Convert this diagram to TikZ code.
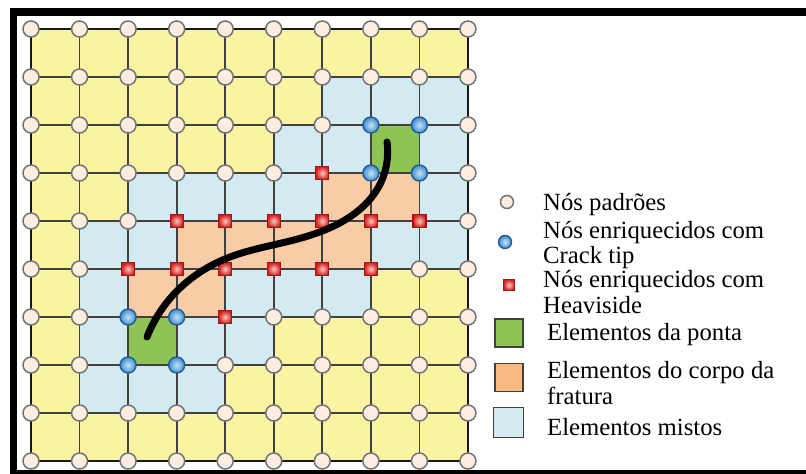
\documentclass[tikz,border=0pt]{standalone}
\usepackage{fontspec}
\setmainfont{Liberation Serif}
\newfontfamily\legendfont{Liberation Serif}
\usetikzlibrary{hobby, positioning}

\definecolor{cellyellow}{RGB}{250,243,162}
\definecolor{cellmixed}{RGB}{210,234,240}
\definecolor{cellbody}{RGB}{248,204,166}
\definecolor{legbody}{RGB}{247,186,128}
\definecolor{celltip}{RGB}{141,196,84}
\definecolor{nodepeach}{RGB}{252,237,225}
\definecolor{tipblue}{RGB}{62,142,205}
\definecolor{tiplight}{RGB}{200,228,248}
\definecolor{tiprim}{RGB}{35,90,150}
\definecolor{heavred}{RGB}{212,32,32}
\definecolor{heavlight}{RGB}{250,200,190}
\definecolor{heavrim}{RGB}{165,20,20}

\tikzset{
    stdnode/.style={circle, draw=black!55, line width=1.5bp, fill=nodepeach,
        minimum size=16bp, inner sep=0pt},
    tipnode/.style={circle, draw=tiprim, line width=1.4bp, inner color=tiplight,
        outer color=tipblue, minimum size=16bp, inner sep=0pt},
    heavnode/.style={rectangle, draw=heavrim, line width=1.3bp, inner color=heavlight,
        outer color=heavred, minimum size=13bp, inner sep=0pt},
    gridline/.style={draw=black!75, line width=1.8bp},
    gridborder/.style={draw=black!90, line width=2.4bp},
    crack/.style={line width=7bp, line cap=round},
    legbox/.style={rectangle, draw=black!75, line width=1.8bp, minimum size=28bp, inner sep=0pt},
    legtext/.style={anchor=west, align=left, inner sep=0pt,
        font=\legendfont\fontsize{24.8}{26}\selectfont},
}

\begin{document}
\begin{tikzpicture}[x=1bp, y=-1bp, use Hobby shortcut]
    \useasboundingbox (0,0) rectangle (806,474);
    % frame (no right side)
    \fill (10,8) rectangle (806,16);
    \fill (10,8) rectangle (17,474);
    \fill (10,470) rectangle (806,474);

    % 9x9 elements, grid points g-i-j
    \begin{scope}[shift={(31,29)}, x=48.55bp, y=-48bp]
        \foreach \i in {0,...,9}
            \foreach \j in {0,...,9}
                \coordinate (g-\i-\j) at (\i,\j);
        \fill[cellyellow] (0,0) rectangle (9,9);
        \foreach \i/\j in {6/1,7/1,8/1, 5/2,6/2,8/2, 2/3,3/3,4/3,5/3,8/3,
                           1/4,2/4,7/4,8/4, 1/5,4/5,5/5,6/5, 1/6,3/6,4/6, 1/7,2/7,3/7}
            \fill[cellmixed] (\i,\j) rectangle ++(1,1);
        \foreach \i/\j in {6/3,7/3, 3/4,4/4,5/4,6/4, 2/5,3/5}
            \fill[cellbody] (\i,\j) rectangle ++(1,1);
        \foreach \i/\j in {7/2, 2/6}
            \fill[celltip] (\i,\j) rectangle ++(1,1);
    \end{scope}

    \foreach \k in {1,...,8} {
        \draw[gridline] (g-\k-0) -- (g-\k-9);
        \draw[gridline] (g-0-\k) -- (g-9-\k);
    }
    \draw[gridborder] (g-0-0) rectangle (g-9-9);

    % nodes: crack tip, Heaviside or standard
    \foreach \i in {0,...,9} {
        \foreach \j in {0,...,9} {
            \pgfmathtruncatemacro\istip{((\i==7||\i==8)&&(\j==2||\j==3))||((\i==2||\i==3)&&(\j==6||\j==7))}
            \pgfmathtruncatemacro\isheav{(\i==6&&\j==3)||(\j==4&&\i>2&&\i<9)||(\j==5&&\i>1&&\i<8)||(\i==4&&\j==6)}
            \def\kind{stdnode}
            \ifnum\istip=1 \def\kind{tipnode}\fi
            \ifnum\isheav=1 \def\kind{heavnode}\fi
            \node[style/.expand once=\kind] (n-\i-\j) at (g-\i-\j) {};
        }
    }

    % crack path
    \coordinate (C1) at (147,337);
    \coordinate (C2) at (180,288);
    \coordinate (C3) at (230,257);
    \coordinate (C4) at (290,241);
    \coordinate (C5) at (345,220);
    \coordinate (C6) at (378,188);
    \coordinate (C7) at (387,142);
    \draw[crack] (C1)..(C2)..(C3)..(C4)..(C5)..(C6)..(C7);

    % legend
    \node[stdnode, minimum size=13bp] (lg-std) at (507,202) {};
    \node[legtext] (lt-std) at (543,205) {Nós padrões};
    \node[tipnode, minimum size=13bp] (lg-tip) at (505,242) {};
    \node[legtext] (lt-tip) at (543,245) {Nós enriquecidos com\\Crack tip};
    \node[heavnode, minimum size=11bp] (lg-heav) at (509,285) {};
    \node[legtext] (lt-heav) at (543,292) {Nós enriquecidos com\\Heaviside};
    \node[legbox, fill=celltip] (lg-tipel) at (509,333) {};
    \node[legtext] (lt-tipel) at (547,335) {Elementos da ponta};
    \node[legbox, fill=legbody] (lg-body) at (509,377.5) {};
    \node[legtext] (lt-body) at (547,383) {Elementos do corpo da\\fratura};
    \node[legbox, fill=cellmixed, minimum size=30bp] (lg-mixed) at (508.5,422.5) {};
    \node[legtext] (lt-mixed) at (547,427) {Elementos mistos};
\end{tikzpicture}
\end{document}
